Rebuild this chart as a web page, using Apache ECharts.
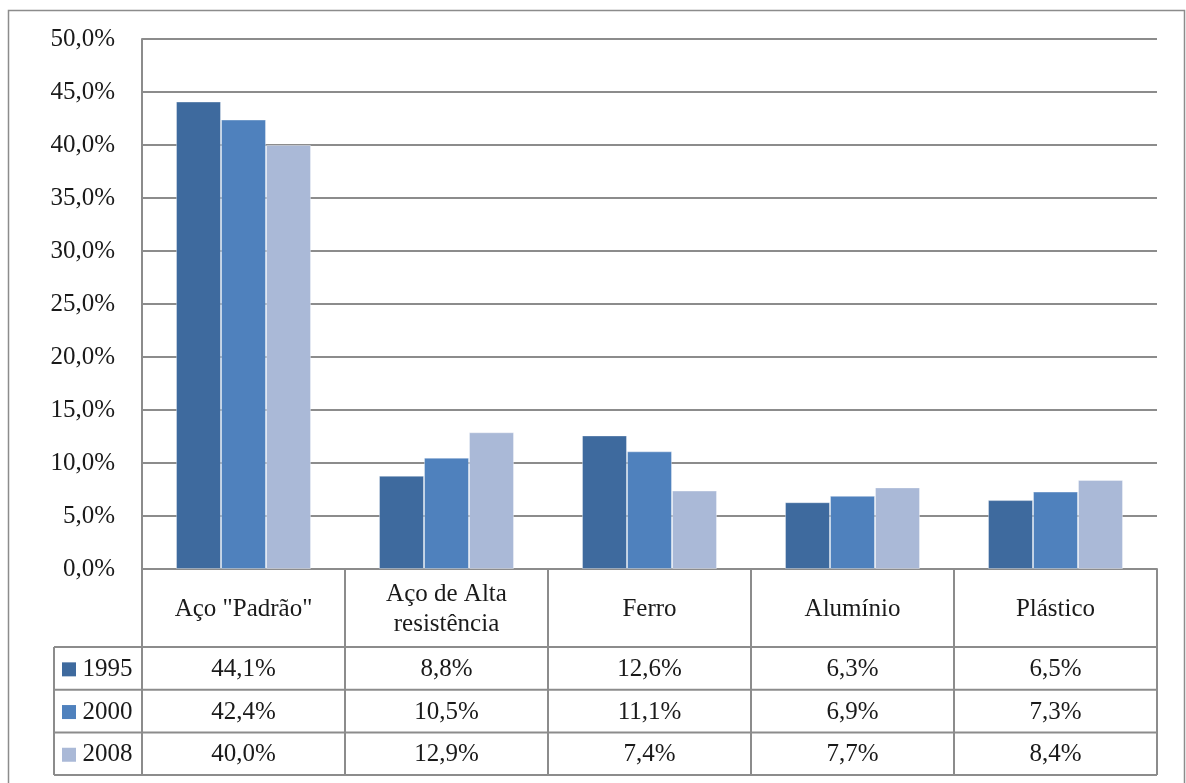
<!DOCTYPE html>
<html>
<head>
<meta charset="utf-8">
<script src="https://cdn.jsdelivr.net/npm/echarts@6/dist/echarts.min.js"></script>
<style>html,body{margin:0;padding:0;background:#fff;}#main{width:1186px;height:783px;}</style>
</head>
<body>
<div id="main"></div>
<script>
const categories = ['Aço "Padrão"', 'Aço de Alta\nresistência', 'Ferro', 'Alumínio', 'Plástico'];
const seriesNames = ['1995', '2000', '2008'];
const values1995 = [44.1, 8.8, 12.6, 6.3, 6.5];
const values2000 = [42.4, 10.5, 11.1, 6.9, 7.3];
const values2008 = [40.0, 12.9, 7.4, 7.7, 8.4];
const yMin = 0, yMax = 50, yStep = 5;

const allValues = [values1995, values2000, values2008];
const colors = ['#3E6A9E', '#4F81BD', '#AAB9D7'];
const FONT = '"Liberation Serif", "Times New Roman", serif';
const TXT = '#1a1a1a';
const LINE = '#8c8c8c';
const fmt = v => v.toFixed(1).replace('.', ',') + '%';

const chart = echarts.init(document.getElementById('main'), null, {renderer: 'canvas'});

const option = {
  animation: false,
  backgroundColor: '#fff',
  grid: {left: 142, top: 39, width: 1015, height: 530, containLabel: false},
  xAxis: {
    type: 'category',
    data: categories,
    axisLine: {show: true, lineStyle: {color: LINE, width: 2}},
    axisTick: {show: false},
    axisLabel: {show: false},
    splitLine: {show: false}
  },
  yAxis: {
    type: 'value',
    min: yMin, max: yMax, interval: yStep,
    axisLine: {show: true, lineStyle: {color: LINE, width: 2}},
    axisTick: {show: false},
    axisLabel: {formatter: fmt, fontFamily: FONT, fontSize: 25, color: TXT, margin: 27, padding: [5, 0, 0, 0]},
    splitLine: {show: true, lineStyle: {color: LINE, width: 2}}
  },
  series: seriesNames.map((n, i) => ({
    name: n,
    type: 'bar',
    data: allValues[i],
    barGap: '0%',
    barCategoryGap: '33.5%',
    itemStyle: {color: colors[i], borderColor: 'rgba(255,255,255,0.35)', borderWidth: 1}
  }))
};
chart.setOption(option);

function buildTable() {
  const c0 = chart.convertToPixel({xAxisIndex: 0}, 0);
  const c1 = chart.convertToPixel({xAxisIndex: 0}, 1);
  const band = c1 - c0;
  const left = c0 - band / 2;
  const right = left + band * categories.length;
  const y0 = chart.convertToPixel({yAxisIndex: 0}, yMin);
  const headerH = 78, rowH = 42.7, legendW = 88;
  const yHead = y0 + headerH;
  const yBottom = yHead + rowH * seriesNames.length;
  const legLeft = left - legendW;
  const els = [];
  const ln = (x1, y1, x2, y2) => els.push({type: 'line', silent: true,
    shape: {x1, y1, x2, y2}, style: {stroke: LINE, lineWidth: 2}});
  const tx = (text, x, y, align) => els.push({type: 'text', silent: true,
    style: {text, x, y, align: align || 'center', textAlign: align || 'center',
      verticalAlign: 'middle', textVerticalAlign: 'middle',
      font: '25px ' + FONT, fill: TXT, lineHeight: 30}});
  // outer frame
  els.push({type: 'rect', silent: true, shape: {x: 8.5, y: 10.5, width: 1176, height: 800},
    style: {fill: 'none', stroke: LINE, lineWidth: 1.5}});
  // horizontal lines
  ln(left, y0, right, y0);
  ln(legLeft, yHead, right, yHead);
  for (let r = 1; r <= seriesNames.length; r++) ln(legLeft, yHead + rowH * r, right, yHead + rowH * r);
  // vertical lines
  for (let i = 0; i <= categories.length; i++) ln(left + band * i, y0, left + band * i, yBottom);
  ln(legLeft, yHead, legLeft, yBottom);
  // header texts
  categories.forEach((c, i) => tx(c, left + band * (i + 0.5), y0 + headerH / 2 + 1));
  // rows
  seriesNames.forEach((n, r) => {
    const cy = yHead + rowH * (r + 0.5) + 1;
    els.push({type: 'rect', silent: true, shape: {x: legLeft + 8, y: cy - 7, width: 14, height: 14},
      style: {fill: colors[r]}});
    tx(n, legLeft + 28.5, cy, 'left');
    allValues[r].forEach((v, i) => tx(fmt(v), left + band * (i + 0.5), cy));
  });
  chart.setOption({graphic: {elements: els}});
}
buildTable();
</script>
</body>
</html>
